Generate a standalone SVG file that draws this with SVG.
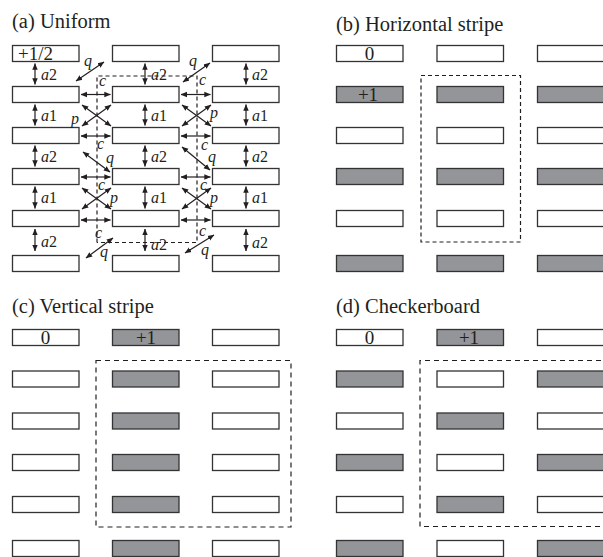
<svg xmlns="http://www.w3.org/2000/svg" width="603" height="557" viewBox="0 0 603 557">
<style>
.w{fill:#fff;stroke:#333;stroke-width:1.3}
.g{fill:#939598;stroke:#333;stroke-width:1.3}
.t{font-family:"Liberation Serif","Times New Roman",serif;fill:#231f20}
.ti{font-size:20.5px}
.bl{font-size:19px;text-anchor:middle}
.lb{font-size:16px}
.it{font-style:italic}
.ar{stroke:#231f20;stroke-width:1.2;fill:none;marker-start:url(#ah);marker-end:url(#ah)}
.da{stroke:#231f20;stroke-width:1.2;fill:none;stroke-dasharray:4 3}
</style>
<defs>
<marker id="ah" viewBox="0 0 10 10" refX="9.5" refY="5" markerWidth="6.5" markerHeight="6.5" orient="auto-start-reverse" markerUnits="userSpaceOnUse"><path d="M0,0.8 L10,5 L0,9.2 z" fill="#231f20"/></marker>
</defs>

<g id="titles" class="t ti">
<text x="12" y="28">(a) Uniform</text>
<text x="336" y="31">(b) Horizontal stripe</text>
<text x="12" y="313">(c) Vertical stripe</text>
<text x="336" y="313">(d) Checkerboard</text>
</g>

<!-- (a) Uniform -->
<g id="a-nodes">
<g id="a-r0c0"><rect class="w" x="12.5" y="45.5" width="66.5" height="16"/><text class="t" x="18" y="60" font-size="19">+1/2</text></g>
<g id="a-r0c1"><rect class="w" x="112.5" y="45.5" width="66.5" height="16"/></g>
<g id="a-r0c2"><rect class="w" x="212.5" y="45.5" width="66.5" height="16"/></g>
<g id="a-r1c0"><rect class="w" x="12.5" y="86.5" width="66.5" height="16"/></g>
<g id="a-r1c1"><rect class="w" x="112.5" y="86.5" width="66.5" height="16"/></g>
<g id="a-r1c2"><rect class="w" x="212.5" y="86.5" width="66.5" height="16"/></g>
<g id="a-r2c0"><rect class="w" x="12.5" y="127.5" width="66.5" height="16"/></g>
<g id="a-r2c1"><rect class="w" x="112.5" y="127.5" width="66.5" height="16"/></g>
<g id="a-r2c2"><rect class="w" x="212.5" y="127.5" width="66.5" height="16"/></g>
<g id="a-r3c0"><rect class="w" x="12.5" y="168.5" width="66.5" height="16"/></g>
<g id="a-r3c1"><rect class="w" x="112.5" y="168.5" width="66.5" height="16"/></g>
<g id="a-r3c2"><rect class="w" x="212.5" y="168.5" width="66.5" height="16"/></g>
<g id="a-r4c0"><rect class="w" x="12.5" y="210.5" width="66.5" height="16"/></g>
<g id="a-r4c1"><rect class="w" x="112.5" y="210.5" width="66.5" height="16"/></g>
<g id="a-r4c2"><rect class="w" x="212.5" y="210.5" width="66.5" height="16"/></g>
<g id="a-r5c0"><rect class="w" x="12.5" y="255.5" width="66.5" height="16"/></g>
<g id="a-r5c1"><rect class="w" x="112.5" y="255.5" width="66.5" height="16"/></g>
<g id="a-r5c2"><rect class="w" x="212.5" y="255.5" width="66.5" height="16"/></g>
</g>

<g id="a-connectors">
<path class="da" d="M97,242.5 V76 H197 V242.5 H97"/>
<g class="ar">
<line x1="35" y1="63.5" x2="35" y2="84.5"/><line x1="145" y1="63.5" x2="145" y2="84.5"/><line x1="246" y1="63.5" x2="246" y2="84.5"/>
<line x1="35" y1="104.5" x2="35" y2="125.5"/><line x1="145" y1="104.5" x2="145" y2="125.5"/><line x1="246" y1="104.5" x2="246" y2="125.5"/>
<line x1="35" y1="145.5" x2="35" y2="166.5"/><line x1="145" y1="145.5" x2="145" y2="166.5"/><line x1="246" y1="145.5" x2="246" y2="166.5"/>
<line x1="35" y1="186.5" x2="35" y2="208.5"/><line x1="145" y1="186.5" x2="145" y2="208.5"/><line x1="246" y1="186.5" x2="246" y2="208.5"/>
<line x1="35" y1="229" x2="35" y2="251"/><line x1="145" y1="229" x2="145" y2="251"/><line x1="246" y1="229" x2="246" y2="251"/>
<line x1="81" y1="94.5" x2="110.5" y2="94.5"/><line x1="181" y1="94.5" x2="210.5" y2="94.5"/>
<line x1="81" y1="136" x2="110.5" y2="136"/><line x1="181" y1="136" x2="210.5" y2="136"/>
<line x1="81" y1="177" x2="110.5" y2="177"/><line x1="181" y1="177" x2="210.5" y2="177"/>
<line x1="81" y1="220" x2="110.5" y2="220"/><line x1="181" y1="220" x2="210.5" y2="220"/>
<line x1="76" y1="81" x2="104" y2="62"/><line x1="183" y1="82" x2="210" y2="63"/>
<line x1="83" y1="152" x2="110" y2="172"/><line x1="182" y1="147" x2="210" y2="170"/>
<line x1="86" y1="258" x2="113" y2="238"/><line x1="185" y1="253" x2="214" y2="235"/>
<line x1="82" y1="105" x2="111" y2="126"/><line x1="111" y1="105" x2="82" y2="126"/>
<line x1="182" y1="105" x2="211" y2="126"/><line x1="211" y1="105" x2="182" y2="126"/>
<line x1="82" y1="188" x2="111" y2="209"/><line x1="111" y1="188" x2="82" y2="209"/>
<line x1="182" y1="188" x2="211" y2="209"/><line x1="211" y1="188" x2="182" y2="209"/>
</g>
<g class="t lb">
<text x="41" y="79.5"><tspan class="it">a</tspan>2</text><text x="151" y="79.5"><tspan class="it">a</tspan>2</text><text x="252" y="79.5"><tspan class="it">a</tspan>2</text>
<text x="41" y="120.5"><tspan class="it">a</tspan>1</text><text x="151" y="120.5"><tspan class="it">a</tspan>1</text><text x="252" y="120.5"><tspan class="it">a</tspan>1</text>
<text x="41" y="162"><tspan class="it">a</tspan>2</text><text x="151" y="162"><tspan class="it">a</tspan>2</text><text x="252" y="162"><tspan class="it">a</tspan>2</text>
<text x="41" y="203"><tspan class="it">a</tspan>1</text><text x="151" y="203"><tspan class="it">a</tspan>1</text><text x="252" y="203"><tspan class="it">a</tspan>1</text>
<text x="41" y="247"><tspan class="it">a</tspan>2</text><text x="151" y="250"><tspan class="it">a</tspan>2</text><text x="252" y="248"><tspan class="it">a</tspan>2</text>
<g class="it">
<text x="99" y="86">c</text><text x="199" y="85">c</text>
<text x="97" y="149">c</text><text x="201" y="150">c</text>
<text x="98" y="190">c</text><text x="200" y="190">c</text>
<text x="95" y="238">c</text><text x="199" y="236">c</text>
<text x="84" y="66">q</text><text x="189" y="66">q</text>
<text x="106" y="163">q</text><text x="208" y="162">q</text>
<text x="100" y="257">q</text><text x="201" y="255">q</text>
<text x="71" y="124">p</text><text x="210" y="118">p</text>
<text x="110" y="203">p</text><text x="210" y="203">p</text>
</g>
</g>
</g>

<!-- (b) Horizontal stripe -->
<g id="b-nodes">
<g id="b-r0c0"><rect class="w" x="336.5" y="45.5" width="66.5" height="16"/><text class="t bl" x="369.5" y="60">0</text></g>
<g id="b-r0c1"><rect class="w" x="437" y="45.5" width="66.5" height="16"/></g>
<g id="b-r0c2"><rect class="w" x="537.5" y="45.5" width="66.5" height="16"/></g>
<g id="b-r1c0"><rect class="g" x="336.5" y="86.5" width="66.5" height="16"/><text class="t bl" x="368" y="101">+1</text></g>
<g id="b-r1c1"><rect class="g" x="437" y="86.5" width="66.5" height="16"/></g>
<g id="b-r1c2"><rect class="g" x="537.5" y="86.5" width="66.5" height="16"/></g>
<g id="b-r2c0"><rect class="w" x="336.5" y="127.5" width="66.5" height="16"/></g>
<g id="b-r2c1"><rect class="w" x="437" y="127.5" width="66.5" height="16"/></g>
<g id="b-r2c2"><rect class="w" x="537.5" y="127.5" width="66.5" height="16"/></g>
<g id="b-r3c0"><rect class="g" x="336.5" y="168.5" width="66.5" height="16"/></g>
<g id="b-r3c1"><rect class="g" x="437" y="168.5" width="66.5" height="16"/></g>
<g id="b-r3c2"><rect class="g" x="537.5" y="168.5" width="66.5" height="16"/></g>
<g id="b-r4c0"><rect class="w" x="336.5" y="210.5" width="66.5" height="16"/></g>
<g id="b-r4c1"><rect class="w" x="437" y="210.5" width="66.5" height="16"/></g>
<g id="b-r4c2"><rect class="w" x="537.5" y="210.5" width="66.5" height="16"/></g>
<g id="b-r5c0"><rect class="g" x="336.5" y="255.5" width="66.5" height="16"/></g>
<g id="b-r5c1"><rect class="g" x="437" y="255.5" width="66.5" height="16"/></g>
<g id="b-r5c2"><rect class="g" x="537.5" y="255.5" width="66.5" height="16"/></g>
</g>
<g id="b-connectors"><rect class="da" x="421" y="75.5" width="99.5" height="166.5"/></g>

<!-- (c) Vertical stripe -->
<g id="c-nodes">
<g id="c-r0c0"><rect class="w" x="12.5" y="329.5" width="66.5" height="16"/><text class="t bl" x="45.5" y="344">0</text></g>
<g id="c-r0c1"><rect class="g" x="112.5" y="329.5" width="66.5" height="16"/><text class="t bl" x="146" y="344">+1</text></g>
<g id="c-r0c2"><rect class="w" x="212.5" y="329.5" width="66.5" height="16"/></g>
<g id="c-r1c0"><rect class="w" x="12.5" y="371" width="66.5" height="16"/></g>
<g id="c-r1c1"><rect class="g" x="112.5" y="371" width="66.5" height="16"/></g>
<g id="c-r1c2"><rect class="w" x="212.5" y="371" width="66.5" height="16"/></g>
<g id="c-r2c0"><rect class="w" x="12.5" y="413" width="66.5" height="16"/></g>
<g id="c-r2c1"><rect class="g" x="112.5" y="413" width="66.5" height="16"/></g>
<g id="c-r2c2"><rect class="w" x="212.5" y="413" width="66.5" height="16"/></g>
<g id="c-r3c0"><rect class="w" x="12.5" y="454.5" width="66.5" height="16"/></g>
<g id="c-r3c1"><rect class="g" x="112.5" y="454.5" width="66.5" height="16"/></g>
<g id="c-r3c2"><rect class="w" x="212.5" y="454.5" width="66.5" height="16"/></g>
<g id="c-r4c0"><rect class="w" x="12.5" y="496.5" width="66.5" height="16"/></g>
<g id="c-r4c1"><rect class="g" x="112.5" y="496.5" width="66.5" height="16"/></g>
<g id="c-r4c2"><rect class="w" x="212.5" y="496.5" width="66.5" height="16"/></g>
<g id="c-r5c0"><rect class="w" x="12.5" y="540.5" width="66.5" height="16"/></g>
<g id="c-r5c1"><rect class="g" x="112.5" y="540.5" width="66.5" height="16"/></g>
<g id="c-r5c2"><rect class="w" x="212.5" y="540.5" width="66.5" height="16"/></g>
</g>
<g id="c-connectors"><rect class="da" x="96" y="360.5" width="195" height="166.5" style="stroke-dasharray:5 4"/></g>

<!-- (d) Checkerboard -->
<g id="d-nodes">
<g id="d-r0c0"><rect class="w" x="336.5" y="329.5" width="66.5" height="16"/><text class="t bl" x="369.5" y="344">0</text></g>
<g id="d-r0c1"><rect class="g" x="437" y="329.5" width="66.5" height="16"/><text class="t bl" x="469" y="344">+1</text></g>
<g id="d-r0c2"><rect class="w" x="537.5" y="329.5" width="66.5" height="16"/></g>
<g id="d-r1c0"><rect class="g" x="336.5" y="371" width="66.5" height="16"/></g>
<g id="d-r1c1"><rect class="w" x="437" y="371" width="66.5" height="16"/></g>
<g id="d-r1c2"><rect class="g" x="537.5" y="371" width="66.5" height="16"/></g>
<g id="d-r2c0"><rect class="w" x="336.5" y="413" width="66.5" height="16"/></g>
<g id="d-r2c1"><rect class="g" x="437" y="413" width="66.5" height="16"/></g>
<g id="d-r2c2"><rect class="w" x="537.5" y="413" width="66.5" height="16"/></g>
<g id="d-r3c0"><rect class="g" x="336.5" y="454.5" width="66.5" height="16"/></g>
<g id="d-r3c1"><rect class="w" x="437" y="454.5" width="66.5" height="16"/></g>
<g id="d-r3c2"><rect class="g" x="537.5" y="454.5" width="66.5" height="16"/></g>
<g id="d-r4c0"><rect class="w" x="336.5" y="496.5" width="66.5" height="16"/></g>
<g id="d-r4c1"><rect class="g" x="437" y="496.5" width="66.5" height="16"/></g>
<g id="d-r4c2"><rect class="w" x="537.5" y="496.5" width="66.5" height="16"/></g>
<g id="d-r5c0"><rect class="g" x="336.5" y="540.5" width="66.5" height="16"/></g>
<g id="d-r5c1"><rect class="w" x="437" y="540.5" width="66.5" height="16"/></g>
<g id="d-r5c2"><rect class="g" x="537.5" y="540.5" width="66.5" height="16"/></g>
</g>
<g id="d-connectors"><path class="da" d="M610,360.5 H420 V526.5 H610" style="stroke-dasharray:5 4"/></g>
</svg>
